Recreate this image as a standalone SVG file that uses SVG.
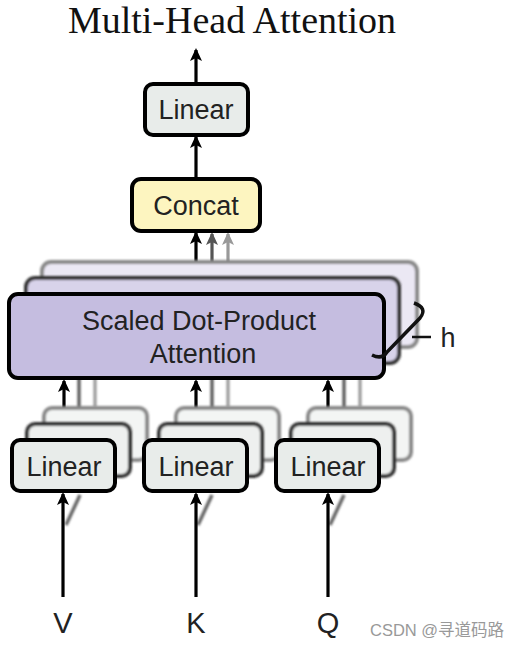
<svg xmlns="http://www.w3.org/2000/svg" width="521" height="647" viewBox="0 0 521 647">
<style>
.box{stroke:#000;stroke-width:4}
.lin{fill:#e8ecea}
.att{fill:#c5bde0}
.cat{fill:#fdf5c0}
.back1{stroke:#333;stroke-width:4}
.back2{stroke:#888;stroke-width:4}
.lbl{font-family:"Liberation Sans",Arial,sans-serif;fill:#222;text-anchor:middle}
.arr{stroke:#000;stroke-width:3.2;fill:none}
.garr{stroke:#555;stroke-width:3.2;fill:none}
.lgarr{stroke:#999;stroke-width:3.2;fill:none}
</style>
<defs>
<marker id="ah" markerWidth="13" markerHeight="12" refX="11" refY="6" orient="auto" markerUnits="userSpaceOnUse" viewBox="0 0 13 12"><path d="M0,0 L13,6 L0,12 L3,6 z" fill="#000"/></marker>
<marker id="ahg" markerWidth="13" markerHeight="12" refX="11" refY="6" orient="auto" markerUnits="userSpaceOnUse" viewBox="0 0 13 12"><path d="M0,0 L13,6 L0,12 L3,6 z" fill="#555"/></marker>
<marker id="ahl" markerWidth="13" markerHeight="12" refX="11" refY="6" orient="auto" markerUnits="userSpaceOnUse" viewBox="0 0 13 12"><path d="M0,0 L13,6 L0,12 L3,6 z" fill="#999"/></marker>
<filter id="bl" x="-10%" y="-10%" width="120%" height="120%"><feGaussianBlur stdDeviation="0.9"/></filter>
</defs>
<rect width="521" height="647" fill="#fff"/>
<text x="232" y="33" font-family="Liberation Serif,'Times New Roman',serif" font-size="38" fill="#111" text-anchor="middle">Multi-Head Attention</text>

<g id="connectors">
<line class="arr" x1="196" y1="84" x2="196" y2="50" marker-end="url(#ah)"/>
<line class="arr" x1="196" y1="178" x2="196" y2="137" marker-end="url(#ah)"/>
<line class="lgarr" x1="228" y1="262" x2="228" y2="234" marker-end="url(#ahl)"/>
<line class="garr" x1="212" y1="278" x2="212" y2="234" marker-end="url(#ahg)"/>
<line class="arr" x1="196" y1="293" x2="196" y2="233" marker-end="url(#ah)"/>
<g filter="url(#bl)">
<line class="lgarr" x1="95" y1="407" x2="95" y2="378"/>
<line class="garr" x1="79" y1="423" x2="79" y2="378"/>
<line class="lgarr" x1="228" y1="407" x2="228" y2="378"/>
<line class="garr" x1="212" y1="423" x2="212" y2="378"/>
<line class="lgarr" x1="360" y1="407" x2="360" y2="378"/>
<line class="garr" x1="344" y1="423" x2="344" y2="378"/>
<line x1="66" y1="525" x2="80" y2="495" stroke="#666" stroke-width="3.5"/>
<line x1="198" y1="525" x2="212" y2="495" stroke="#666" stroke-width="3.5"/>
<line x1="330" y1="525" x2="344" y2="495" stroke="#666" stroke-width="3.5"/>
</g>
<line class="arr" x1="64" y1="440" x2="64" y2="381" marker-end="url(#ah)"/>
<line class="arr" x1="196" y1="440" x2="196" y2="381" marker-end="url(#ah)"/>
<line class="arr" x1="328" y1="440" x2="328" y2="381" marker-end="url(#ah)"/>
<line class="arr" x1="63" y1="597" x2="63" y2="494" marker-end="url(#ah)"/>
<line class="arr" x1="196" y1="597" x2="196" y2="494" marker-end="url(#ah)"/>
<line class="arr" x1="328" y1="597" x2="328" y2="494" marker-end="url(#ah)"/>
</g>

<g id="linear-top">
<rect class="box lin" x="145" y="84" width="103" height="51" rx="8"/>
<text class="lbl" x="196" y="119" font-size="27">Linear</text>
</g>

<g id="concat">
<rect class="box cat" x="132" y="179" width="128" height="52" rx="9"/>
<text class="lbl" x="196" y="215" font-size="27">Concat</text>
</g>

<g id="attention">
<rect class="back2" filter="url(#bl)" x="42" y="262" width="375" height="85" rx="9" fill="#ebe8f4"/>
<rect class="back1" filter="url(#bl)" x="26" y="278" width="373" height="85" rx="9" fill="#d8d3ea"/>
<line class="lgarr" filter="url(#bl)" x1="228" y1="262" x2="228" y2="278"/>
<line class="garr" filter="url(#bl)" x1="212" y1="278" x2="212" y2="295"/>
<rect class="box att" x="9" y="294" width="375" height="84" rx="9"/>
<text class="lbl" x="199" y="330" font-size="27">Scaled Dot-Product</text>
<text class="lbl" x="203" y="363" font-size="27">Attention</text>
</g>

<g id="h-brace">
<path d="M414,303 Q428,308 420,318 L387,352 Q382,360 372,355" fill="none" stroke="#111" stroke-width="3.5"/>
<line x1="412" y1="337" x2="431" y2="337" stroke="#111" stroke-width="2.5"/>
<text class="lbl" x="448" y="347" font-size="27">h</text>
</g>

<g id="linear-v">
<rect class="back2" filter="url(#bl)" x="44" y="408" width="103" height="52" rx="8" fill="#f3f5f4"/>
<rect class="back1" filter="url(#bl)" x="27" y="424" width="103" height="52" rx="8" fill="#eef0ef"/>
<rect class="box lin" x="12" y="440" width="103" height="51" rx="8"/>
<text class="lbl" x="64" y="476" font-size="27">Linear</text>
</g>
<g id="linear-k">
<rect class="back2" filter="url(#bl)" x="176" y="408" width="103" height="52" rx="8" fill="#f3f5f4"/>
<rect class="back1" filter="url(#bl)" x="159" y="424" width="103" height="52" rx="8" fill="#eef0ef"/>
<rect class="box lin" x="144" y="440" width="103" height="51" rx="8"/>
<text class="lbl" x="196" y="476" font-size="27">Linear</text>
</g>
<g id="linear-q">
<rect class="back2" filter="url(#bl)" x="308" y="408" width="103" height="52" rx="8" fill="#f3f5f4"/>
<rect class="back1" filter="url(#bl)" x="291" y="424" width="103" height="52" rx="8" fill="#eef0ef"/>
<rect class="box lin" x="276" y="440" width="103" height="51" rx="8"/>
<text class="lbl" x="328" y="476" font-size="27">Linear</text>
</g>

<g id="inputs">
<text class="lbl" x="63" y="633" font-size="29">V</text>
<text class="lbl" x="196" y="633" font-size="29">K</text>
<text class="lbl" x="328" y="633" font-size="29">Q</text>
</g>
<text x="370" y="636" font-family="'Liberation Sans','Noto Sans CJK SC',sans-serif" font-size="16.5" fill="#999">CSDN @寻道码路</text>
</svg>
